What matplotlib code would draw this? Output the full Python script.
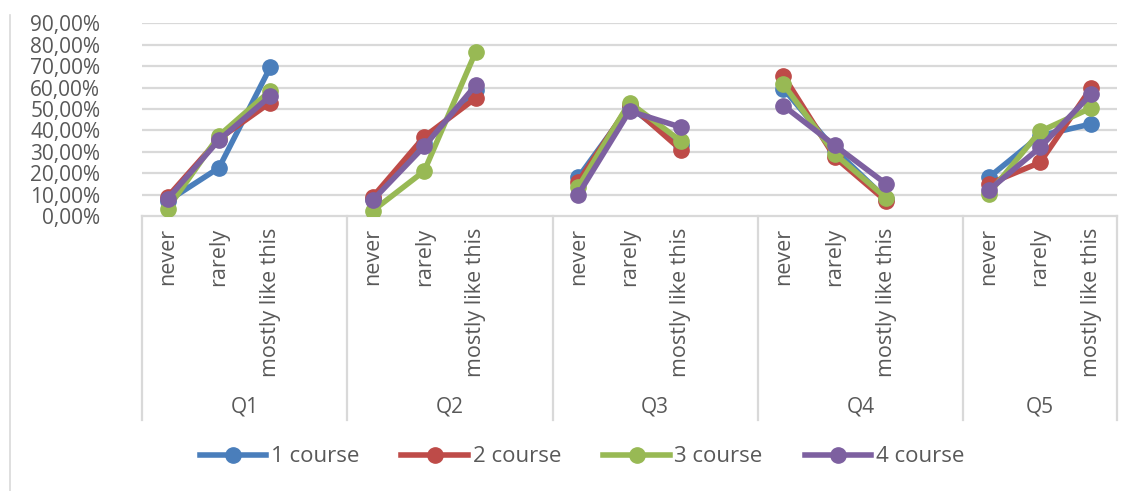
import numpy as np
import matplotlib.pyplot as plt
from matplotlib.transforms import blended_transform_factory
from matplotlib.lines import Line2D

plt.rcParams['font.family'] = ['Open Sans', 'DejaVu Sans']

questions = ["Q1", "Q2", "Q3", "Q4", "Q5"]
answers = ["never", "rarely", "mostly like this"]
courses = ["1 course", "2 course", "3 course", "4 course"]
colors = ["#4A7EBB", "#BE4B48", "#98B954", "#7D60A0"]

# share of answers (%) per question: never, rarely, mostly like this
course1 = [[7, 22.5, 69.5], [8, 34, 59], [18, 51, 33], [59.5, 31, 8], [18, 37.5, 43]]
course2 = [[9, 36, 53], [9, 37, 55], [16, 52, 31], [65.5, 27.5, 7], [15, 25, 60]]
course3 = [[3.5, 37.5, 58.5], [2.5, 21, 76.5], [13.5, 53, 35], [61.5, 29, 8.5], [10.5, 39.5, 50.5]]
course4 = [[8, 35.5, 56], [7.5, 32.5, 61], [10, 49, 41.5], [51.5, 33, 15], [12, 32, 57]]
series = [course1, course2, course3, course4]

fig = plt.figure(figsize=(11.35, 4.91), dpi=100)
ax = fig.add_axes([142 / 1135, 1 - 216 / 491, 975 / 1135, (216 - 23.3) / 491])

# each question takes 3 slots plus an empty slot as a gap
for vals, col, name in zip(series, colors, courses):
    xs, ys = [], []
    for qi, q in enumerate(vals):
        for ai, v in enumerate(q):
            xs.append(qi * 4 + ai)
            ys.append(v)
        if qi < len(vals) - 1:
            xs.append(qi * 4 + 3)
            ys.append(np.nan)
    ax.plot(xs, ys, color=col, lw=4, marker='o', ms=11, label=name,
            solid_capstyle='round', zorder=3)

ax.set_xlim(-0.5, 18.5)
ax.set_ylim(0, 90)
ax.set_yticks(np.arange(0, 91, 10))
ax.set_yticklabels([f"{v},00%" for v in range(0, 91, 10)], fontsize=15, color="#595959")
ax.tick_params(axis='y', length=0, pad=30)
ax.tick_params(axis='x', length=0)
ax.set_xticks([])
for v in range(10, 91, 10):
    ax.axhline(v, color="#D9D9D9", lw=1.6, zorder=1)
for s in ["top", "right", "left"]:
    ax.spines[s].set_visible(False)
ax.spines["bottom"].set_color("#D9D9D9")
ax.spines["bottom"].set_linewidth(1.6)

trans = blended_transform_factory(ax.transData, ax.transAxes)
bottom = -(420 - 216) / (216 - 23.3)
bounds = [-0.5, 3.5, 7.5, 11.5, 15.5, 18.5]
for b in bounds:
    ax.plot([b, b], [0, bottom], transform=trans, color="#D9D9D9", lw=1.6,
            clip_on=False)

for qi, q in enumerate(questions):
    for ai, a in enumerate(answers):
        ax.text(qi * 4 + ai, -(228 - 216) / (216 - 23.3), a, transform=trans,
                rotation=90, ha='center', va='top', fontsize=15.5, color="#595959")
    ax.text((bounds[qi] + bounds[qi + 1]) / 2, -(407 - 216) / (216 - 23.3), q,
            transform=trans, ha='center', va='center', fontsize=15, color="#595959")

handles = [Line2D([], [], color=c, lw=4, marker='o', ms=11) for c in colors]
fig.legend(handles, courses, loc='center', bbox_to_anchor=(582 / 1135, 1 - 457 / 491),
           ncol=4, frameon=False, fontsize=16, handlelength=3.0, handletextpad=0.2,
           columnspacing=1.9, labelcolor="#595959")

fig.add_artist(Line2D([10 / 1135, 10 / 1135], [0, 1 - 15 / 491], color="#D9D9D9", lw=1.2))

fig.savefig("out.png", dpi=100)
